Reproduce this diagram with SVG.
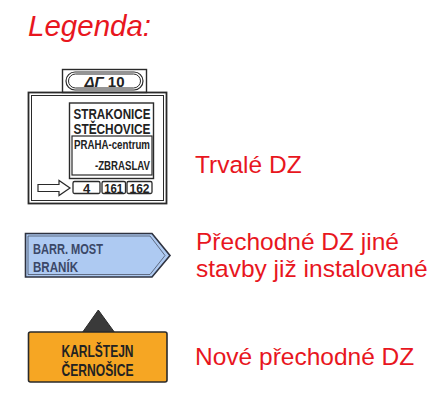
<svg xmlns="http://www.w3.org/2000/svg" width="445" height="394" viewBox="0 0 445 394">
<style>
.lbl{font-family:"Liberation Sans",Arial,sans-serif;fill:#e8161e;font-size:24.5px}
.sg{font-family:"Liberation Sans Narrow","Liberation Sans",Arial,sans-serif;font-weight:bold;fill:#222}
.ln{fill:none;stroke:#2a2a2a}
</style>
<rect width="445" height="394" fill="#ffffff"/>
<text x="28" y="36" class="lbl" style="font-style:italic;font-size:29.5px">Legenda:</text>

<g id="trvale">
  <rect x="62.5" y="69.5" width="84" height="23" fill="#fff" class="ln" stroke-width="1.4"/>
  <rect x="66" y="72" width="77" height="18" rx="9" fill="none" class="ln" stroke-width="1.2"/>
  <rect x="68.5" y="74" width="72" height="14" rx="7" fill="none" class="ln" stroke-width="1"/>
  <text x="104.5" y="87" class="sg" font-size="15" text-anchor="middle"><tspan font-style="italic">ΔΓ</tspan> 10</text>
  <rect x="28.5" y="92.5" width="138" height="111" fill="#fff" class="ln" stroke-width="1.8"/>
  <rect x="31.5" y="95.5" width="132" height="105" fill="none" class="ln" stroke-width="1"/>
  <rect x="69.5" y="103" width="84" height="75.5" fill="#fff" class="ln" stroke-width="1.4"/>
  <text x="73.5" y="118.5" class="sg" font-size="14" textLength="77" lengthAdjust="spacingAndGlyphs">STRAKONICE</text>
  <text x="73.5" y="133.5" class="sg" font-size="14" textLength="77" lengthAdjust="spacingAndGlyphs">STĚCHOVICE</text>
  <rect x="72" y="136" width="80" height="39" fill="none" class="ln" stroke-width="1.2"/>
  <text x="74" y="149" class="sg" font-size="13" textLength="76" lengthAdjust="spacingAndGlyphs">PRAHA-centrum</text>
  <text x="95" y="170" class="sg" font-size="13" textLength="55" lengthAdjust="spacingAndGlyphs">-ZBRASLAV</text>
  <path d="M38,184.5 H59 V180.5 L70,188 L59,195.5 V191.5 H38 Z" fill="#fff" class="ln" stroke-width="1.2"/>
  <rect x="73" y="181.5" width="27" height="12" rx="1.5" fill="#fff" class="ln" stroke-width="1.3"/>
  <rect x="102" y="181.5" width="23.5" height="12" rx="1.5" fill="#fff" class="ln" stroke-width="1.3"/>
  <rect x="127" y="181.5" width="25" height="12" rx="1.5" fill="#fff" class="ln" stroke-width="1.3"/>
  <text x="86.5" y="192.5" class="sg" font-size="13" text-anchor="middle">4</text>
  <text x="113.7" y="192.5" class="sg" font-size="13" text-anchor="middle" textLength="19" lengthAdjust="spacingAndGlyphs">161</text>
  <text x="139.5" y="192.5" class="sg" font-size="13" text-anchor="middle" textLength="20" lengthAdjust="spacingAndGlyphs">162</text>
</g>
<text x="195" y="173" class="lbl" font-size="24">Trvalé DZ</text>

<g id="prechodne-jine">
  <path d="M25.5,233.5 H152 L170,255.5 L152,277 H25.5 Z" fill="#aecaf2" stroke="#2f3340" stroke-width="1.6"/>
  <path d="M28,236 H150 L165,255.5 L150,274.5 H28 Z" fill="none" stroke="#4a5366" stroke-width="0.8"/>
  <text x="33" y="253.5" class="sg" font-size="15" style="fill:#3b4868" textLength="70" lengthAdjust="spacingAndGlyphs">BARR. MOST</text>
  <text x="33" y="272" class="sg" font-size="15" style="fill:#3b4868" textLength="45" lengthAdjust="spacingAndGlyphs">BRANÍK</text>
</g>
<text x="196" y="250" class="lbl">Přechodné DZ jiné</text>
<text x="196" y="277" class="lbl">stavby již instalované</text>

<g id="nove">
  <path d="M82,333 L98.3,310 L115,333 Z" fill="#3a3a3a" stroke="#2a2a2a" stroke-width="1"/>
  <rect x="28.5" y="332" width="138.5" height="50" rx="2" fill="#f6a623" stroke="#2a2a2a" stroke-width="1.6"/>
  <text x="97.5" y="356.5" class="sg" font-size="16.5" text-anchor="middle" textLength="72" lengthAdjust="spacingAndGlyphs">KARLŠTEJN</text>
  <text x="97.5" y="375.5" class="sg" font-size="16.5" text-anchor="middle" textLength="72" lengthAdjust="spacingAndGlyphs">ČERNOŠICE</text>
</g>
<text x="195" y="365" class="lbl" font-size="25">Nové přechodné DZ</text>
</svg>
